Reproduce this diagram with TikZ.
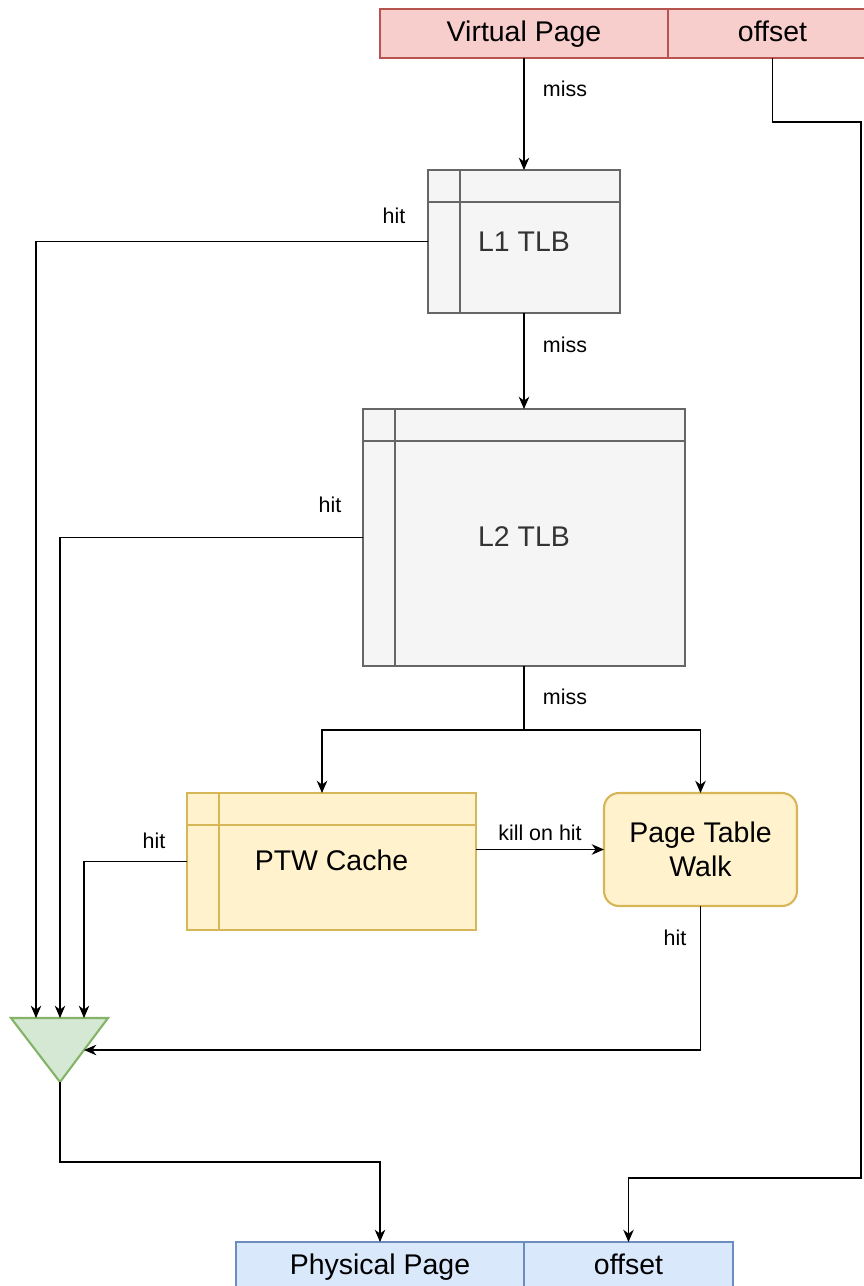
\documentclass[tikz,border=0pt]{standalone}
\usepackage{fontspec}
\setmainfont{Liberation Sans}
\usetikzlibrary{arrows.meta}

\definecolor{redfill}{HTML}{F8CECC}
\definecolor{redline}{HTML}{B85450}
\definecolor{greyfill}{HTML}{F5F5F5}
\definecolor{greyline}{HTML}{666666}
\definecolor{greytext}{HTML}{333333}
\definecolor{yellowfill}{HTML}{FFF2CC}
\definecolor{yellowline}{HTML}{D6B656}
\definecolor{greenfill}{HTML}{D5E8D4}
\definecolor{greenline}{HTML}{82B366}
\definecolor{bluefill}{HTML}{DAE8FC}
\definecolor{blueline}{HTML}{6C8EBF}

\newcommand{\tablelines}[2]{%
  \draw[line width=1.2pt, #2] ([xshift=0.64cm]#1.north west) -- ([xshift=0.64cm]#1.south west);
  \draw[line width=1.2pt, #2] ([yshift=-0.64cm]#1.north west) -- ([yshift=-0.64cm]#1.north east);}

\begin{document}
\begin{tikzpicture}[x=0.02cm, y=-0.02cm,
  box/.style={draw, line width=1.2pt, outer sep=0pt, inner sep=0pt,
    font=\fontsize{16.2}{19.4}\selectfont},
  vbox/.style={box, fill=redfill, draw=redline, minimum height=0.98cm,
    text height=12pt, text depth=3.4pt},
  pbox/.style={box, fill=bluefill, draw=blueline, minimum height=0.98cm,
    text height=12pt, text depth=3.4pt},
  tlb/.style={box, fill=greyfill, draw=greyline, text=greytext},
  ptw/.style={box, fill=yellowfill, draw=yellowline},
  conn/.style={line width=0.7pt, -{Stealth[length=7pt, width=6pt, inset=2.2pt]}},
  lbl/.style={font=\fontsize{12.2}{14}\selectfont, inner sep=0pt}]

\useasboundingbox (0,0) rectangle (864,1286);

\node[vbox, minimum width=5.76cm] (vpage) at (524,33.5) {Virtual Page};
\node[vbox, minimum width=4.18cm] (voff) at (772.5,33.5) {offset};

\node[tlb, minimum width=3.84cm, minimum height=2.86cm] (l1) at (524,241.5) {L1 TLB};
\tablelines{l1}{greyline}
\node[tlb, minimum width=6.44cm, minimum height=5.14cm] (l2) at (524,537.5) {\raisebox{1.5pt}{L2 TLB}};
\tablelines{l2}{greyline}

\node[ptw, minimum width=5.78cm, minimum height=2.74cm] (ptwc) at (331.5,861.5) {\raisebox{2pt}{PTW Cache}};
\tablelines{ptwc}{yellowline}
\node[ptw, rounded corners=0.3cm, align=center, minimum width=3.86cm, minimum height=2.26cm] (walk) at (700.5,849.5) {Page Table\\Walk};

\filldraw[fill=greenfill, draw=greenline, line width=1.2pt, line join=miter]
  (11,1018) -- (108,1018) -- (60,1082) coordinate (muxout) -- cycle;
\coordinate (in1) at (36,1018);
\coordinate (in2) at (60,1018);
\coordinate (in3) at (84,1018);
\coordinate (in4) at (84,1050);

\node[pbox, minimum width=5.76cm] (ppage) at (380,1266.5) {Physical Page};
\node[pbox, minimum width=4.18cm] (poff) at (628.5,1266.5) {offset};

\coordinate (split) at (524,730);

\draw[conn] (vpage) -- (l1);
\draw[conn] (l1) -- (l2);
\draw[line width=0.7pt] (l2.south) -- (split);
\draw[conn] (split) -| ([xshift=-0.19cm]ptwc.north);
\draw[conn] (split) -| (walk.north);
\draw[conn] (ptwc.east |- walk.west) -- (walk.west);

\draw[conn] (l1.west) -| (in1);
\draw[conn] (l2.west) -| (in2);
\draw[conn] (ptwc.west) -| (in3);
\draw[conn] (walk.south) |- (in4);

\draw[conn] (muxout) -- (60,1162) -| (ppage.north);
\draw[conn] (voff.south) |- (861,122) |- (628.5,1178) -- (poff.north);

\node[lbl] (miss1) at (565,89) {miss};
\node[lbl] (miss2) at (565,345) {miss};
\node[lbl] (miss3) at (565,697) {miss};
\node[lbl] (hit1) at (394,216) {hit};
\node[lbl] (hit2) at (330,505) {hit};
\node[lbl] (hit3) at (154,841) {hit};
\node[lbl] (hit4) at (675,938) {hit};
\node[lbl] (kill) at (540,833) {kill on hit};

\end{tikzpicture}
\end{document}
